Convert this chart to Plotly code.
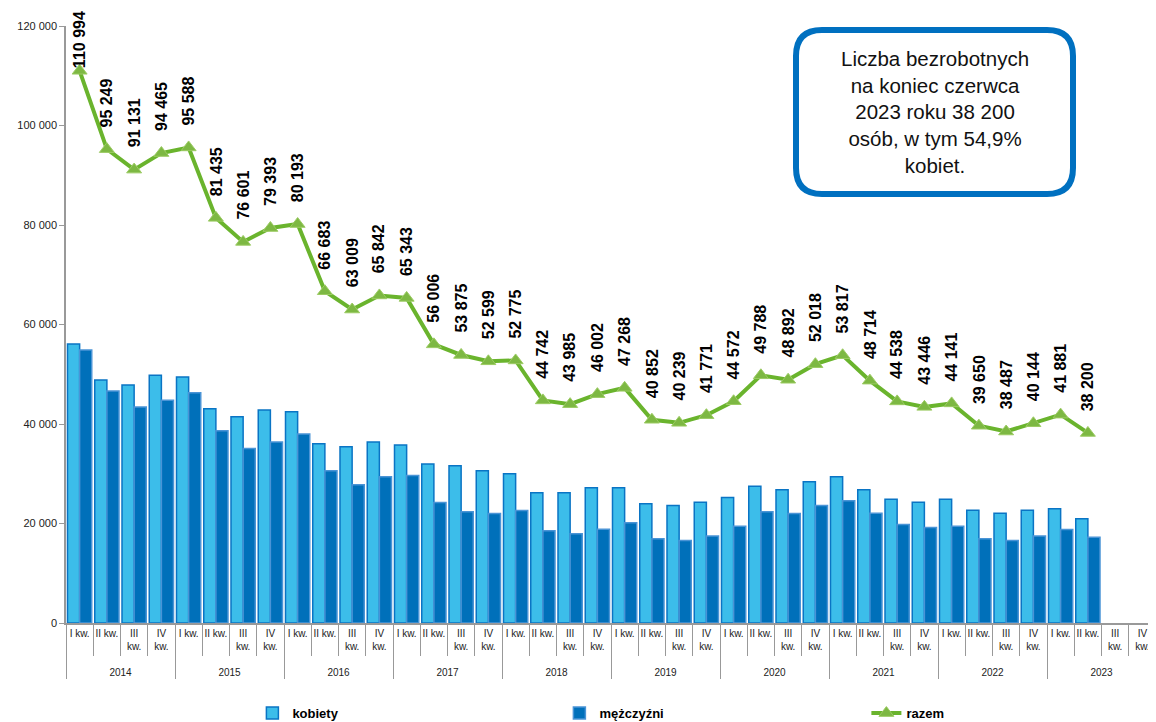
import plotly.graph_objects as go

# categories
years = ['2014', '2015', '2016', '2017', '2018', '2019', '2020', '2021', '2022', '2023']
quarters = ['I kw.', 'II kw.', 'III<br>kw.', 'IV<br>kw.']

# unemployed at end of quarter (None = no data yet)
kobiety = [56100, 48850, 47840, 49790,
           49450, 43080, 41470, 42810,
           42470, 36030, 35430, 36370,
           35760, 31940, 31600, 30600,
           29990, 26170, 26170, 27180,
           27180, 23960, 23620, 24290,
           25230, 27510, 26770, 28380,
           29390, 26770, 24890, 24290,
           24890, 22680, 22080, 22680,
           22950, 20970, None, None]
mezczyzni = [54890, 46640, 43410, 44760,
             46300, 38650, 35090, 36370,
             37980, 30600, 27780, 29390,
             29660, 24220, 22340, 22010,
             22610, 18520, 17920, 18860,
             20130, 16910, 16570, 17510,
             19460, 22340, 22010, 23620,
             24560, 22080, 19790, 19190,
             19460, 16910, 16570, 17510,
             18790, 17230, None, None]
razem = [110994, 95249, 91131, 94465,
         95588, 81435, 76601, 79393,
         80193, 66683, 63009, 65842,
         65343, 56006, 53875, 52599,
         52775, 44742, 43985, 46002,
         47268, 40852, 40239, 41771,
         44572, 49788, 48892, 52018,
         53817, 48714, 44538, 43446,
         44141, 39650, 38487, 40144,
         41881, 38200, None, None]

x_outer = [y for y in years for q in quarters]
# extra empty line pushes the year row a bit lower
x_inner = [q + '<br>&nbsp;' for y in years for q in quarters]
x_flat = [f'{y} {q}' for y in years for q in quarters]

FONT = 'Liberation Sans, Arial, sans-serif'

fig = go.Figure()

fig.add_trace(go.Bar(
    x=[x_outer, x_inner],
    y=kobiety,
    name='kobiety',
    marker=dict(color='#3CBDEA', line=dict(color='#0A74C4', width=1.5))
))

fig.add_trace(go.Bar(
    x=[x_outer, x_inner],
    y=mezczyzni,
    name='mężczyźni',
    marker=dict(color='#0070BA', line=dict(color='#4A94D6', width=1.5))
))

fig.add_trace(go.Scatter(
    x=x_flat,
    y=razem,
    name='razem',
    xaxis='x2',
    mode='lines+markers',
    line=dict(color='#6AB42D', width=4),
    marker=dict(symbol='triangle-up', size=13, color='#7DB843',
                line=dict(color='#9CCB63', width=1))
))

# value labels above the line (rotated); the top one is squeezed under the frame
for xf, v in zip(x_flat, razem):
    if v is None:
        continue
    py = 623 - v / 120000 * 597
    shift = min(20, max(py - 8 - 62, 0))
    fig.add_annotation(
        x=xf, y=v, xref='x2', yref='y',
        text=f'{v:,}'.replace(',', ' '),
        textangle=-90, showarrow=False,
        yanchor='bottom', yshift=shift,
        font=dict(family=FONT, size=16, color='#000000', weight='bold')
    )

# info box (positions in screenshot pixels -> paper)
def px_x(p):
    return (p - 66) / 1090

def px_y(p):
    return (623 - p) / 597

x0, x1, y0, y1, r = 796, 1073, 30, 194, 26
path = (f'M{px_x(x0 + r)},{px_y(y0)} L{px_x(x1 - r)},{px_y(y0)} '
        f'Q{px_x(x1)},{px_y(y0)} {px_x(x1)},{px_y(y0 + r)} '
        f'L{px_x(x1)},{px_y(y1 - r)} Q{px_x(x1)},{px_y(y1)} {px_x(x1 - r)},{px_y(y1)} '
        f'L{px_x(x0 + r)},{px_y(y1)} Q{px_x(x0)},{px_y(y1)} {px_x(x0)},{px_y(y1 - r)} '
        f'L{px_x(x0)},{px_y(y0 + r)} Q{px_x(x0)},{px_y(y0)} {px_x(x0 + r)},{px_y(y0)} Z')
fig.add_shape(type='path', path=path, xref='paper', yref='paper',
              line=dict(color='#0070C0', width=6), fillcolor='white', layer='above')
fig.add_annotation(
    x=px_x((x0 + x1) / 2), y=px_y((y0 + y1) / 2), xref='paper', yref='paper',
    xanchor='center', yanchor='middle',
    text='Liczba bezrobotnych<br>na koniec czerwca<br>2023 roku 38 200<br>osób, w tym 54,9%<br>kobiet.',
    showarrow=False, align='center',
    font=dict(family=FONT, size=20.5, color='#111111')
)

# page body has an 8px margin, so the figure is a bit smaller than the window
fig.update_layout(
    width=1148, height=714,
    margin=dict(l=58, r=0, t=18, b=99, autoexpand=False),
    plot_bgcolor='white', paper_bgcolor='white',
    separators=', ',
    font=dict(family=FONT, color='#222222'),
    barmode='group', bargap=0.11, bargroupgap=0,
    showlegend=True,
    legend=dict(
        orientation='h', x=0.171, y=-0.151, xanchor='left', yanchor='middle',
        entrywidth=262, entrywidthmode='pixels',
        font=dict(family=FONT, size=13, color='#000000', weight='bold'),
        traceorder='normal'
    ),
    xaxis=dict(
        type='multicategory', automargin=False, tickangle=0,
        showline=True, linecolor='#999999', linewidth=1.5,
        ticks='outside', tickson='boundaries', ticklen=31, tickcolor='#999999',
        showdividers=True, dividercolor='#999999', dividerwidth=1,
        tickfont=dict(family=FONT, size=10, color='#222222'),
        range=[-0.5, 39.5]
    ),
    xaxis2=dict(
        type='category', overlaying='x', visible=False,
        range=[-0.5, 39.5], categoryorder='array', categoryarray=x_flat
    ),
    yaxis=dict(
        range=[0, 120000], dtick=20000, tickformat=',d', automargin=False,
        showgrid=False, zeroline=False,
        showline=True, linecolor='#999999', linewidth=1.5,
        ticks='outside', ticklen=5, tickcolor='#999999',
        tickfont=dict(family=FONT, size=11, color='#222222')
    )
)

fig.write_html('out.html')
